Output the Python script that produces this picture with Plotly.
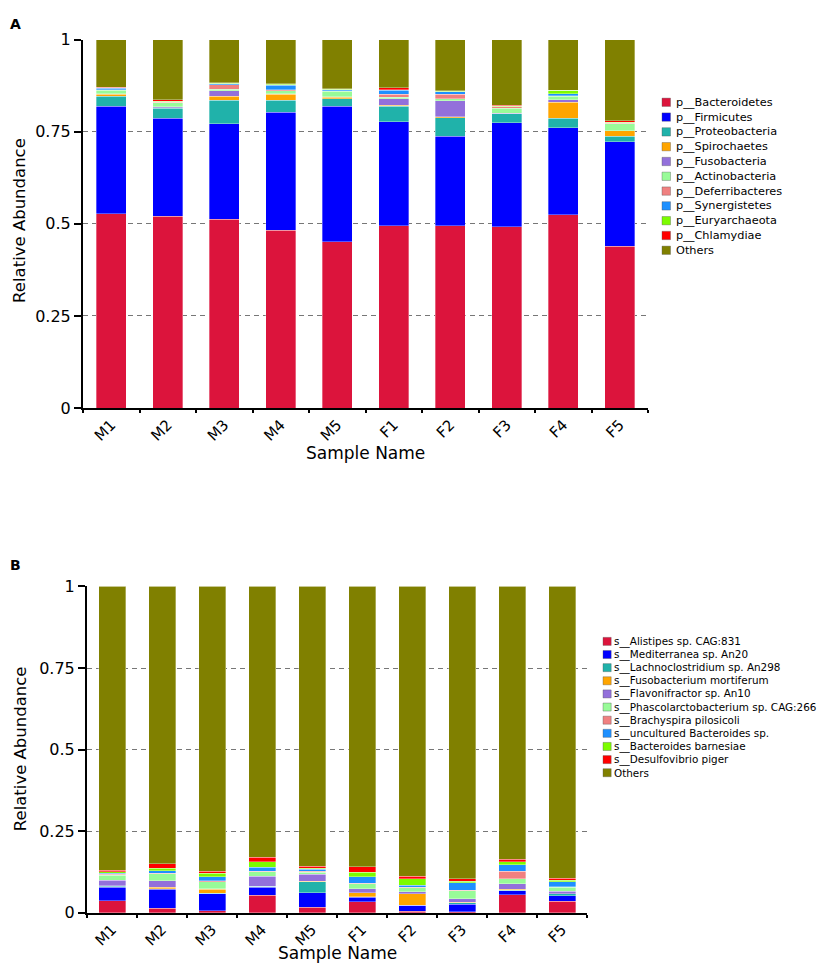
import plotly.graph_objects as go

# The page body has an 8px margin: the figure is 16px smaller than the page and
# reference pixel positions are converted with that 8px offset.
PAGE_W, PAGE_H = 829, 975
OFF = 8
W, H = PAGE_W - 2 * OFF, PAGE_H - 2 * OFF

samples = ["M1", "M2", "M3", "M4", "M5", "F1", "F2", "F3", "F4", "F5"]

# ---- Panel A: phylum level ----
phyla = ["p__Bacteroidetes", "p__Firmicutes", "p__Proteobacteria", "p__Spirochaetes",
         "p__Fusobacteria", "p__Actinobacteria", "p__Deferribacteres", "p__Synergistetes",
         "p__Euryarchaeota", "p__Chlamydiae", "Others"]
bacteroidetes = [0.527, 0.521, 0.513, 0.482, 0.452, 0.495, 0.495, 0.492, 0.524, 0.439]
firmicutes = [0.292, 0.266, 0.258, 0.321, 0.367, 0.282, 0.242, 0.282, 0.237, 0.284]
proteobacteria = [0.027, 0.027, 0.064, 0.032, 0.021, 0.042, 0.051, 0.024, 0.026, 0.014]
spirochaetes = [0.005, 0.001, 0.011, 0.016, 0.004, 0.003, 0.003, 0.001, 0.043, 0.015]
fusobacteria = [0.002, 0.003, 0.015, 0.002, 0.001, 0.018, 0.043, 0.001, 0.007, 0.001]
actinobacteria = [0.009, 0.011, 0.004, 0.008, 0.015, 0.004, 0.005, 0.013, 0.009, 0.018]
deferribacteres = [0.002, 0.001, 0.013, 0.003, 0.001, 0.007, 0.013, 0.004, 0.001, 0.002]
synergistetes = [0.004, 0.001, 0.002, 0.012, 0.003, 0.012, 0.007, 0.001, 0.006, 0.001]
euryarchaeota = [0.001, 0.001, 0.001, 0.003, 0.001, 0.001, 0.001, 0.001, 0.009, 0.002]
chlamydiae = [0.001, 0.005, 0.002, 0.001, 0.002, 0.005, 0.001, 0.003, 0.001, 0.004]
others_a = [0.130, 0.163, 0.117, 0.120, 0.133, 0.131, 0.139, 0.178, 0.137, 0.220]
series_a = [bacteroidetes, firmicutes, proteobacteria, spirochaetes, fusobacteria,
            actinobacteria, deferribacteres, synergistetes, euryarchaeota, chlamydiae, others_a]

# ---- Panel B: species level ----
species = ["s__Alistipes sp. CAG:831", "s__Mediterranea sp. An20",
           "s__Lachnoclostridium sp. An298", "s__Fusobacterium mortiferum",
           "s__Flavonifractor sp. An10", "s__Phascolarctobacterium sp. CAG:266",
           "s__Brachyspira pilosicoli", "s__uncultured Bacteroides sp.",
           "s__Bacteroides barnesiae", "s__Desulfovibrio piger", "Others"]
alistipes = [0.037, 0.014, 0.006, 0.054, 0.017, 0.034, 0.005, 0.004, 0.055, 0.035]
mediterranea = [0.041, 0.058, 0.052, 0.025, 0.045, 0.014, 0.018, 0.023, 0.013, 0.017]
lachnoclostridium = [0.004, 0.002, 0.002, 0.002, 0.034, 0.002, 0.001, 0.004, 0.001, 0.006]
fusobacterium = [0.001, 0.004, 0.012, 0.001, 0.001, 0.012, 0.034, 0.001, 0.004, 0.001]
flavonifractor = [0.017, 0.021, 0.002, 0.031, 0.022, 0.012, 0.006, 0.011, 0.016, 0.007]
phascolarctobacterium = [0.015, 0.021, 0.022, 0.013, 0.006, 0.015, 0.013, 0.025, 0.015, 0.012]
brachyspira = [0.003, 0.002, 0.002, 0.002, 0.002, 0.002, 0.002, 0.001, 0.024, 0.002]
uncultured_bacteroides = [0.004, 0.007, 0.013, 0.012, 0.006, 0.019, 0.006, 0.023, 0.020, 0.016]
bacteroides_barnesiae = [0.004, 0.007, 0.011, 0.016, 0.004, 0.015, 0.019, 0.005, 0.009, 0.004]
desulfovibrio = [0.005, 0.015, 0.006, 0.014, 0.006, 0.017, 0.009, 0.008, 0.007, 0.006]
others_b = [0.869, 0.849, 0.872, 0.830, 0.857, 0.858, 0.887, 0.895, 0.836, 0.894]
series_b = [alistipes, mediterranea, lachnoclostridium, fusobacterium, flavonifractor,
            phascolarctobacterium, brachyspira, uncultured_bacteroides,
            bacteroides_barnesiae, desulfovibrio, others_b]

colors = ["#DC143C", "#0000FF", "#20B2AA", "#FFA500", "#9370DB", "#98FB98",
          "#F08080", "#1E90FF", "#7CFC00", "#FF0000", "#808000"]

ytick_vals = [0, 0.25, 0.5, 0.75, 1]
ytick_text = ["0", "0.25", "0.5", "0.75", "1"]
x_title = "Sample Name"
y_title = "Relative Abundance"

FONT = "DejaVu Sans"


def px_x(p):
    return (p - OFF) / W


def px_y(p):
    return 1 - (p - OFF) / H


fig = go.Figure()

for name, vals, col in zip(phyla, series_a, colors):
    fig.add_trace(go.Bar(x=samples, y=vals, name=name, marker_color=col,
                         marker_line=dict(color="rgba(255,255,255,0.55)", width=0.6),
                         width=0.53, xaxis="x", yaxis="y", showlegend=False))

for name, vals, col in zip(species, series_b, colors):
    fig.add_trace(go.Bar(x=samples, y=vals, name=name, marker_color=col,
                         marker_line=dict(color="rgba(255,255,255,0.55)", width=0.6),
                         width=0.54, xaxis="x2", yaxis="y2", showlegend=False))


def xaxis_style(domain, anchor):
    return dict(domain=domain, anchor=anchor, type="category", range=[-0.5, 9.5],
                showline=True, linecolor="black", linewidth=2, ticks="outside",
                tickson="boundaries", ticklen=3, tickwidth=1.5, tickcolor="black",
                tickangle=-45, tickfont=dict(size=15, color="black", family=FONT),
                showgrid=False, zeroline=False)


def yaxis_style(domain, anchor):
    return dict(domain=domain, anchor=anchor, range=[0, 1], showline=True,
                linecolor="black", linewidth=2, ticks="outside", ticklen=7, tickwidth=1.5,
                tickcolor="black", tickvals=ytick_vals, ticktext=ytick_text,
                tickfont=dict(size=16, color="black", family=FONT),
                showgrid=False, zeroline=False,
                minor=dict(tickvals=[0.25, 0.5, 0.75], showgrid=True, gridcolor="#777777",
                           gridwidth=1, griddash="5px,4px", ticks=""))


shapes = []
annotations = []


def add_legend(names, sq_x, txt_x, y0, dy, size, fsize):
    for i, (nm, col) in enumerate(zip(names, colors)):
        yc = y0 + i * dy
        shapes.append(dict(type="rect", xref="paper", yref="paper",
                           x0=px_x(sq_x), x1=px_x(sq_x + size),
                           y0=px_y(yc + size / 2), y1=px_y(yc - size / 2),
                           fillcolor=col, line=dict(color="rgba(80,80,80,0.6)", width=0.6)))
        annotations.append(dict(xref="paper", yref="paper", x=px_x(txt_x), y=px_y(yc),
                                xanchor="left", yanchor="middle", showarrow=False, text=nm,
                                font=dict(size=fsize, color="black", family=FONT)))


add_legend(phyla, 662, 674, 95, 15.1, 8.5, 11.3)
add_legend(species, 603, 612, 645, 13.4, 8.2, 10.4)


def add_text(x, y, text, size, angle=0):
    annotations.append(dict(xref="paper", yref="paper", x=px_x(x), y=px_y(y), text=text,
                            showarrow=False, xanchor="center", yanchor="middle",
                            textangle=angle, font=dict(size=size, color="black", family=FONT)))


# panel letters
add_text(15, 15, "<b>A</b>", 14)
add_text(15, 567, "<b>B</b>", 14)
# axis titles
add_text(365, 453, x_title, 17)
add_text(337, 963, x_title, 17)
add_text(20, 216, y_title, 16.5, -90)
add_text(20, 755, y_title, 16.5, -90)

fig.update_layout(
    width=W, height=H, autosize=False,
    margin=dict(l=0, r=0, t=0, b=0),
    paper_bgcolor="white", plot_bgcolor="white",
    barmode="stack",
    font=dict(family=FONT, color="black"),
    xaxis=xaxis_style([px_x(83), px_x(648)], "y"),
    yaxis=yaxis_style([px_y(407), px_y(31)], "x"),
    xaxis2=xaxis_style([px_x(87), px_x(587)], "y2"),
    yaxis2=yaxis_style([px_y(922), px_y(589)], "x2"),
    shapes=shapes, annotations=annotations,
    showlegend=False,
)

fig.write_html("out.html")
